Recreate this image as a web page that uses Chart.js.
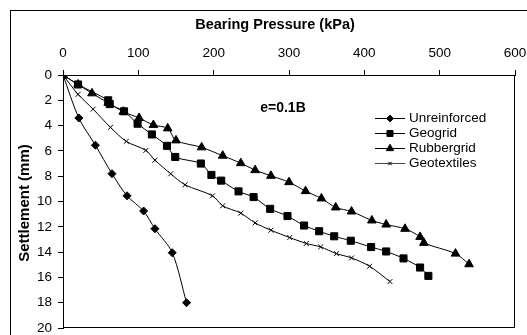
<!DOCTYPE html>
<html>
<head>
<meta charset="utf-8">
<script src="https://cdn.jsdelivr.net/npm/chart.js@4.4.1/dist/chart.umd.min.js"></script>
<style>
  body { margin: 0; background: #fff; }
  #wrap { width: 527px; height: 335px; }
</style>
</head>
<body>
<div id="wrap"><canvas id="chart" width="527" height="335"></canvas></div>
<script>
// values (kPa, mm)
const unreinforcedX = [0, 21, 43, 65, 85, 107, 122, 145, 164];
const unreinforcedY = [0, 3.4, 5.55, 7.8, 9.55, 10.75, 12.15, 14.05, 18.0];

const geogridX = [0, 20, 60, 62, 81, 99, 118, 138, 149, 183, 197, 210, 233, 253, 275, 298, 320, 340, 360, 382, 409, 429, 452, 474, 485];
const geogridY = [0, 0.75, 2.0, 2.3, 2.87, 3.85, 4.7, 5.6, 6.48, 7.0, 7.9, 8.35, 9.2, 9.65, 10.58, 11.15, 11.9, 12.35, 12.75, 13.1, 13.6, 13.95, 14.5, 15.22, 15.88];

const rubbergridX = [0, 20, 38.5, 60, 80, 101, 120, 139, 150, 184, 212, 236, 255, 276, 300, 322, 343, 362, 383, 410, 429, 454, 474, 479, 521, 539];
const rubbergridY = [0, 0.75, 1.45, 2.2, 2.9, 3.4, 3.95, 4.22, 5.17, 5.72, 6.38, 6.97, 7.52, 7.97, 8.47, 9.18, 9.76, 10.47, 10.79, 11.5, 11.82, 12.16, 12.8, 13.27, 14.12, 14.96];

const geotextilesX = [0, 20, 40, 63, 84, 110, 122, 143, 162, 198.5, 212, 236, 255, 276, 301, 323, 342, 363, 383, 407, 434];
const geotextilesY = [0, 1.53, 2.7, 4.14, 5.25, 5.96, 6.73, 7.81, 8.68, 9.55, 10.34, 10.92, 11.69, 12.27, 12.85, 13.32, 13.59, 14.12, 14.46, 15.12, 16.33];

const seriesNames = ["Unreinforced", "Geogrid", "Rubbergrid", "Geotextiles"];
const xTicks = [0, 100, 200, 300, 400, 500, 600];
const yTicks = [0, 2, 4, 6, 8, 10, 12, 14, 16, 18, 20];

const xTitle = "Bearing Pressure (kPa)";
const yTitle = "Settlement (mm)";
const note = "e=0.1B";

function pts(xs, ys) {
  return xs.map((x, i) => ({ x: x, y: ys[i] }));
}

function makeSet(label, xs, ys, style, radius) {
  return {
    label: label,
    data: pts(xs, ys),
    showLine: true,
    borderColor: "#000",
    backgroundColor: "#000",
    borderWidth: 1,
    tension: 0.3,
    pointStyle: style,
    pointRadius: radius,
    pointHoverRadius: radius,
    pointBorderWidth: 1,
    pointBorderColor: "#000",
    pointBackgroundColor: "#000",
  };
}

const font = "'Liberation Sans', Arial, sans-serif";

const extras = {
  id: "extras",
  beforeDraw(chart) {
    const ctx = chart.ctx;
    ctx.save();
    ctx.fillStyle = "#fff";
    ctx.fillRect(0, 0, chart.width, chart.height);
    ctx.restore();
  },
  afterDraw(chart) {
    const ctx = chart.ctx;
    const xs = chart.scales.x;
    const ys = chart.scales.y;
    ctx.save();
    ctx.fillStyle = "#000";
    // outer frame (cut off at the right and bottom edges)
    ctx.fillRect(10, 10, chart.width - 10, 1);
    ctx.fillRect(10, 10, 1, chart.height - 10);
    // right and bottom sides of the plot box
    const l = Math.round(xs.getPixelForValue(0));
    const r = Math.round(xs.getPixelForValue(600));
    const t = Math.round(ys.getPixelForValue(0));
    const b = Math.round(ys.getPixelForValue(20));
    ctx.fillRect(r - 1, t, 1, b - t);
    ctx.fillRect(l, b - 1, r - l, 1);

    // axis titles
    ctx.font = "bold 14.5px " + font;
    ctx.textAlign = "center";
    ctx.textBaseline = "middle";
    ctx.fillText(xTitle, 275, 25);
    ctx.save();
    ctx.translate(25, 203);
    ctx.rotate(-Math.PI / 2);
    ctx.font = "bold 15px " + font;
    ctx.fillText(yTitle, 0, 0);
    ctx.restore();

    // annotation
    ctx.font = "bold 14px " + font;
    ctx.fillText(note, 283, 108);

    // legend: line sample + marker + label
    ctx.font = "13.5px " + font;
    ctx.textAlign = "left";
    chart.data.datasets.forEach((ds, i) => {
      const y = Math.round(117.5 + i * 15.3) + 0.5;
      ctx.strokeStyle = i === 3 ? "#444" : "#000";
      ctx.fillStyle = "#000";
      ctx.lineWidth = 1;
      ctx.beginPath();
      ctx.moveTo(375, y);
      ctx.lineTo(405, y);
      ctx.stroke();
      ctx.strokeStyle = "#000";
      Chart.helpers.drawPoint(ctx, {
        pointStyle: ds.pointStyle,
        rotation: 0,
        radius: ds.pointStyle === "crossRot" ? 2.5 : ds.pointRadius * 0.85,
        borderWidth: 1,
      }, 390, y);
      ctx.fillText(ds.label, 409, y);
    });
    ctx.restore();
  }
};

const chart = new Chart(document.getElementById("chart"), {
  type: "scatter",
  data: {
    datasets: [
      makeSet(seriesNames[0], unreinforcedX, unreinforcedY, "rectRot", 4),
      makeSet(seriesNames[1], geogridX, geogridY, "rect", 5),
      makeSet(seriesNames[2], rubbergridX, rubbergridY, "triangle", 5),
      makeSet(seriesNames[3], geotextilesX, geotextilesY, "crossRot", 3.5),
    ],
  },
  options: {
    responsive: false,
    animation: false,
    events: [],
    layout: { padding: { left: 0, right: 12, top: 0, bottom: 7 } },
    plugins: {
      legend: { display: false },
      tooltip: { enabled: false },
    },
    scales: {
      x: {
        type: "linear",
        position: "top",
        min: 0,
        max: 600,
        afterBuildTicks: (s) => { s.ticks = xTicks.map((v) => ({ value: v })); },
        afterFit: (s) => { s.height = 75; s.paddingLeft = 0; s.paddingRight = 0; },
        ticks: {
          color: "#000",
          font: { family: font, size: 13.5 },
          padding: 9,
          maxRotation: 0,
        },
        grid: {
          drawOnChartArea: false,
          drawTicks: true,
          tickLength: 5,
          color: "#000",
        },
        border: { color: "#000", width: 1 },
      },
      y: {
        type: "linear",
        reverse: true,
        min: 0,
        max: 20,
        afterBuildTicks: (s) => { s.ticks = yTicks.map((v) => ({ value: v })); },
        afterFit: (s) => { s.width = 63; s.paddingTop = 0; s.paddingBottom = 0; },
        ticks: {
          color: "#000",
          font: { family: font, size: 13.5 },
          padding: 6,
        },
        grid: {
          drawOnChartArea: false,
          drawTicks: true,
          tickLength: 5,
          color: "#000",
        },
        border: { color: "#000", width: 1 },
      },
    },
  },
  plugins: [extras],
});
</script>
</body>
</html>
